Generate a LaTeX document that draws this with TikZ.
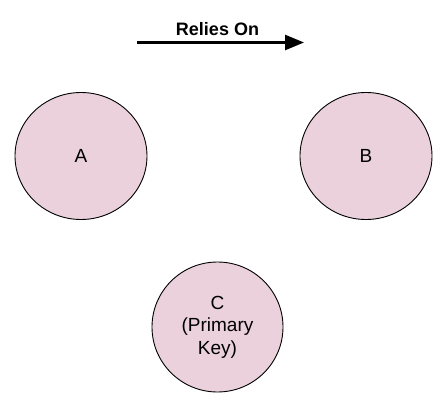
\documentclass[tikz,border=0pt]{standalone}
\usepackage{fontspec}
\setmainfont{Liberation Sans}
\usetikzlibrary{arrows.meta,shapes.geometric}
\definecolor{pinkfill}{HTML}{EAD1DC}
\begin{document}
\begin{tikzpicture}[x=1pt,y=-1pt,
  entity/.style={ellipse, draw=black, line width=0.9pt, fill=pinkfill, align=center, font=\fontsize{19}{22.5}\selectfont, inner sep=0pt},
  relarrow/.style={line width=2.6pt, -{Triangle[length=19pt,width=15pt]}}]
\useasboundingbox (0,0) rectangle (442,404);
\node[entity, minimum width=132pt, minimum height=127pt] (A) at (81,156) {A};
\node[entity, minimum width=132pt, minimum height=127pt] (B) at (366,156) {B};
\node[entity, minimum width=131pt, minimum height=130pt] (C) at (217.5,327) {C\\(Primary\\Key)};
\coordinate (s) at (137,42.5);
\coordinate (t) at (304,42.5);
\draw[relarrow] (s) -- (t);
\node[font=\bfseries\fontsize{18}{22}\selectfont] (lbl) at (217.5,29) {Relies On};
\end{tikzpicture}
\end{document}
